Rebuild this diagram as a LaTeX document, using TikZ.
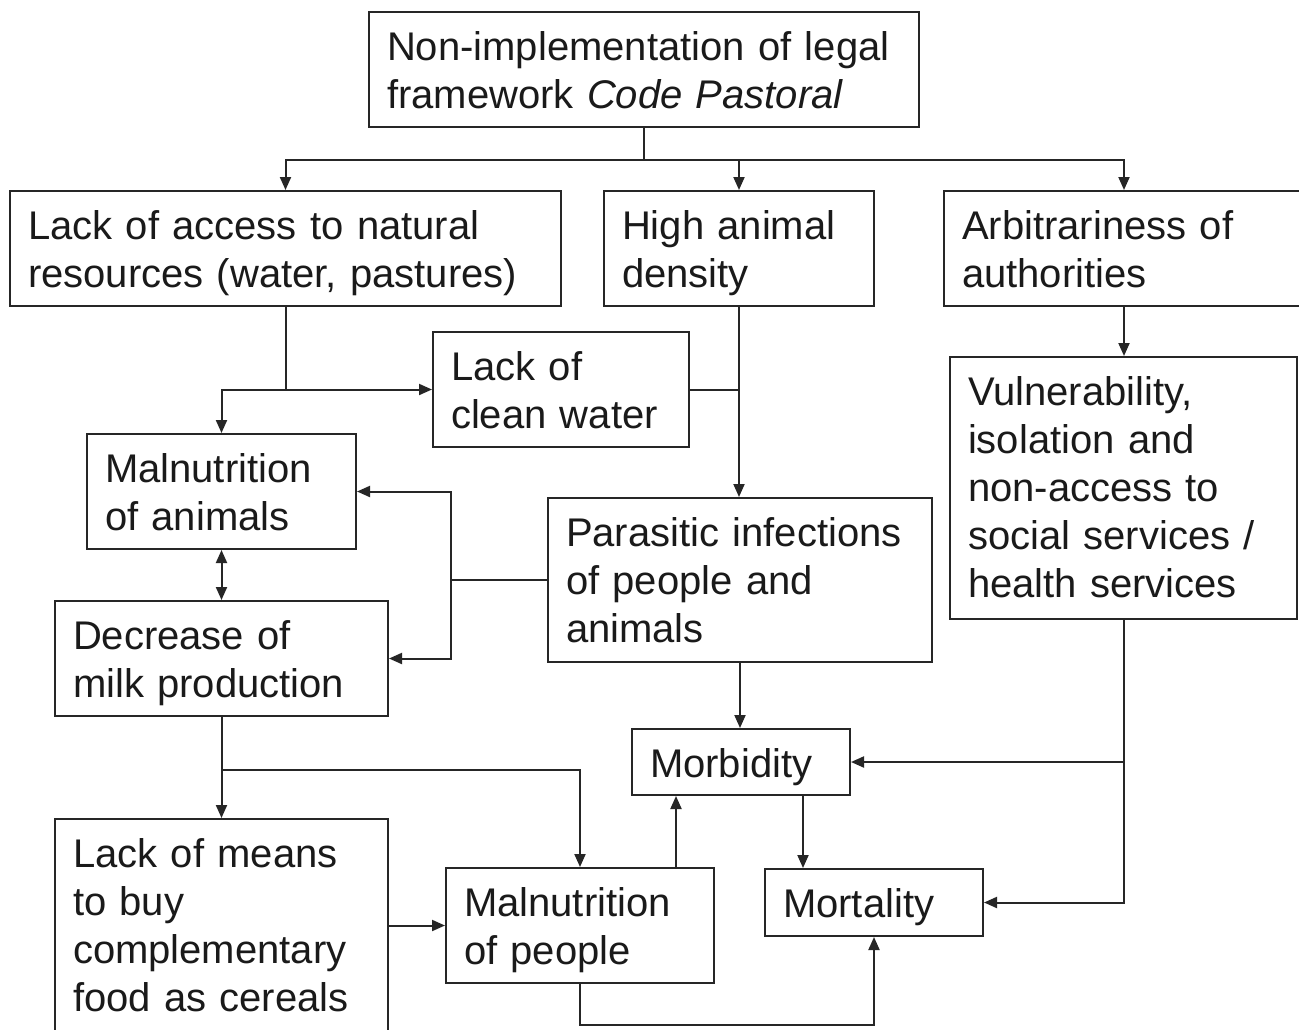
\documentclass[tikz,border=0pt]{standalone}
\usepackage{fontspec}
\setmainfont{Liberation Sans}
\usetikzlibrary{arrows.meta,calc}
\definecolor{ln}{HTML}{262626}
\definecolor{tx}{HTML}{1A1A1A}
\tikzset{
  box/.style={draw=ln, line width=2pt, anchor=north west, inner ysep=0pt, inner xsep=18pt,
    text height=48pt, align=left, text=tx, font=\fontsize{40}{48}\selectfont},
  conn/.style={draw=ln, line width=2pt},
  arr/.style={conn, -{Triangle[length=13pt,width=11pt]}},
  arrboth/.style={conn, {Triangle[length=13pt,width=11pt]}-{Triangle[length=13pt,width=11pt]}}
}
\begin{document}
\begin{tikzpicture}[x=1pt,y=-1pt]
\useasboundingbox (0,0) rectangle (1299,1029);
\fill[white] (0,0) rectangle (1299,1029);
\clip (0,0) rectangle (1299,1029);
% boxes
\node[box, text width=514pt, text depth=67pt] (top) at (368,11) {Non-implementation of legal\\framework \textit{Code Pastoral}};
\node[box, text width=515pt, text depth=67pt] (access) at (9,190) {Lack of access to natural\\resources (water, pastures)};
\node[box, text width=234pt, text depth=67pt] (density) at (603,190) {High animal\\density};
\node[box, text width=324pt, text depth=67pt] (arbit) at (943,190) {Arbitrariness of\\authorities};
\node[box, text width=220pt, text depth=67pt] (water) at (432,331) {Lack of\\clean water};
\node[box, text width=233pt, text depth=67pt] (manimal) at (86,433) {Malnutrition\\of animals};
\node[box, text width=311pt, text depth=214pt] (vuln) at (949,356) {Vulnerability,\\isolation and\\non-access to\\social services /\\health services};
\node[box, text width=348pt, text depth=116pt] (para) at (547,497) {Parasitic infections\\of people and\\animals};
\node[box, text width=297pt, text depth=67pt] (milk) at (54,600) {Decrease of\\milk production};
\node[box, text width=182pt, text depth=18pt] (morb) at (631,728) {Morbidity};
\node[box, text width=297pt, text depth=182pt] (means) at (54,818) {Lack of means\\to buy\\complementary\\food as cereals};
\node[box, text width=232pt, text depth=67pt] (mpeople) at (445,867) {Malnutrition\\of people};
\node[box, text width=182pt, text depth=19pt] (mort) at (764,868) {Mortality};
% junctions
\coordinate (hb) at ($(top.south)+(0,32)$);
\coordinate (ja) at (access.south |- water.west);
\coordinate (jp) at (para.west -| 451,0);
\coordinate (jm) at ($(milk.south)+(0,53)$);
\coordinate (jv) at (vuln.south |- morb.east);
% connectors
\draw[conn] (top.south) -- (hb);
\draw[arr] (hb) -| (access.north);
\draw[arr] (hb) -| (density.north);
\draw[arr] (hb) -| (arbit.north);
\draw[conn] (access.south) -- (ja);
\draw[arr] (ja) -- (water.west);
\draw[arr] (ja) -| (manimal.north);
\draw[conn] (water.east) -- (water.east -| density.south);
\draw[arr] (density.south) -- (density.south |- para.north);
\draw[arr] (arbit.south) -- (arbit.south |- vuln.north);
\draw[arrboth] (manimal.south) -- (manimal.south |- milk.north);
\draw[conn] (para.west) -- (jp);
\draw[arr] (jp) |- (manimal.east);
\draw[arr] (jp) |- (milk.east);
\draw[arr] (milk.south) -- (means.north);
\draw[arr] (jm) -| (mpeople.north);
\draw[arr] (para.south) -- (para.south |- morb.north);
\draw[arr] (vuln.south) |- (mort.east);
\draw[arr] (jv) -- (morb.east);
\draw[arr] ([xshift=62pt]morb.south) -- ([xshift=62pt]morb.south |- mort.north);
\draw[arr] ([xshift=96pt]mpeople.north) -- ([xshift=96pt]mpeople.north |- morb.south);
\draw[arr] (means.east |- mpeople.west) -- (mpeople.west);
\draw[arr] (mpeople.south) -- ++(0,41) -| (mort.south);
\end{tikzpicture}
\end{document}
